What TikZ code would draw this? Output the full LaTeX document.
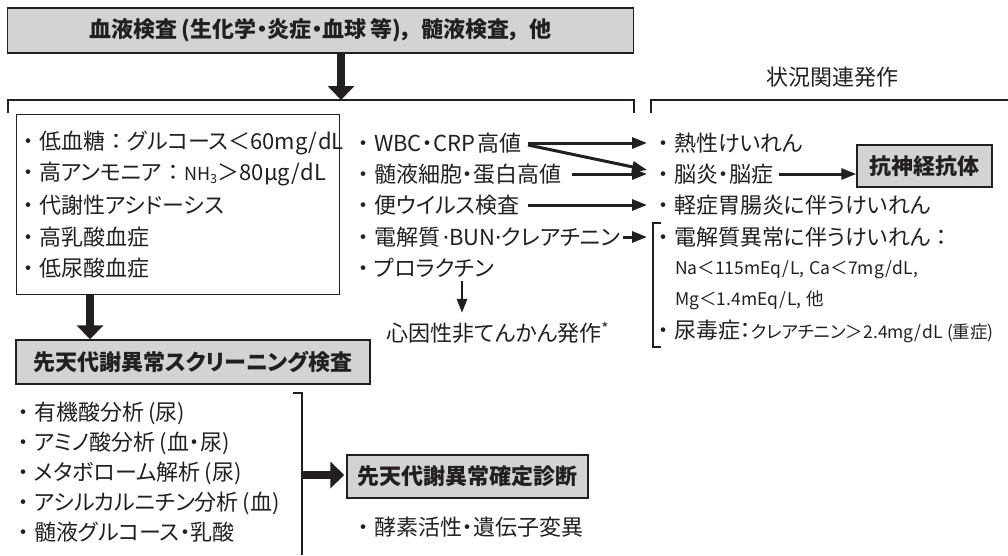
\documentclass[tikz,border=0pt]{standalone}
\usepackage{fontspec}
\setmainfont{Noto Sans CJK JP}[RawFeature=+palt]
\newfontfamily\latinfont{Noto Sans}
\newcommand\bul{\makebox[1em][c]{・}}
\newcommand\fwcolon{\makebox[1em][c]{：}}
\newcommand\fwcomma{\makebox[0.9em][l]{，}}
\newcommand\slsh{\hspace{1pt}/\hspace{1pt}}
\newcommand\cdt{{\latinfont ·}}
\usetikzlibrary{arrows.meta}
\definecolor{ink}{HTML}{231F20}
\definecolor{boxgray}{HTML}{D3D3D3}
\begin{document}
\begin{tikzpicture}[x=1pt,y=-1pt,
  every node/.style={text=ink, font=\fontsize{22}{25}\selectfont, inner sep=0pt},
  item/.style={anchor=west},
  smalltext/.style={font=\fontsize{17.5}{20}\selectfont},
  graybox/.style={draw=ink, fill=boxgray, line width=1.4pt, font=\fontsize{22}{25}\selectfont\bfseries},
  plainbox/.style={draw=ink, line width=1.4pt},
  bigarrow/.style={draw=ink, line width=7.5pt, -{Triangle[width=26pt,length=14pt]}},
  thinarrow/.style={draw=ink, line width=3pt, -{Triangle[width=11pt,length=15pt]}},
  downarrow/.style={draw=ink, line width=2.6pt, -{Triangle[width=10pt,length=14pt]}},
  bracket/.style={draw=ink, line width=1.3pt},
]
\useasboundingbox (0,0) rectangle (1008,555);

% top box
\node[graybox, minimum width=626pt, minimum height=45pt] (top) at (320.5,30.5)
  {血液検査\hspace{4pt}(生化学・炎症・血球\hspace{4pt}等)\fwcomma 髄液検査\fwcomma 他};

% top brackets
\coordinate (bt) at (341,100);
\draw[bracket] (8,113) -- (8,100) -- (634,100) -- (634,113);
\draw[bracket] (651,113) -- (651,100) -- (1008,100);
\draw[bigarrow] (top.south -| bt) -- (bt);
\node (sit) at (832,77) {状況関連発作};

% left box
\node[plainbox, minimum width=323pt, minimum height=180pt, anchor=north west] (lbox) at (16,114) {};
\node[item] (l1) at (17,143) {\bul 低血糖\fwcolon グルコース＜60mg\slsh dL};
\node[item] (l2) at (17,174) {\bul 高アンモニア\fwcolon{\fontsize{18}{20}\selectfont NH\textsubscript{3}}＞80μg\slsh dL};
\node[item] (l3) at (17,205) {\bul 代謝性アシドーシス};
\node[item] (l4) at (17,237) {\bul 高乳酸血症};
\node[item] (l5) at (17,268) {\bul 低尿酸血症};

% middle column
\node[item] (m1) at (352,143) {\bul WBC・CRP\hspace{3pt}高値};
\node[item] (m2) at (352,174) {\bul 髄液細胞・蛋白高値};
\node[item] (m3) at (352,205) {\bul 便ウイルス検査};
\node[item] (m4) at (352,237) {\bul 電解質\hspace{3pt}\cdt BUN\cdt クレアチニン};
\node[item] (m5) at (352,268) {\bul プロラクチン};
\node (psy) at (498,333) {心因性非てんかん発作\textsuperscript{*}};

% right column
\node[item] (r1) at (652,143) {\bul 熱性けいれん};
\node[item] (r2) at (652,174) {\bul 脳炎・脳症};
\node[item] (r3) at (652,205) {\bul 軽症胃腸炎に伴うけいれん};
\node[item] (r4) at (652,237) {\bul 電解質異常に伴うけいれん\fwcolon};
\node[item, smalltext] (na) at (675,270) {Na＜115mEq\slsh L,\hspace{5pt}Ca＜7mg\slsh dL,};
\node[item, smalltext] (mg) at (675,300) {Mg＜1.4mEq\slsh L,\hspace{5pt}他};
\node[item] (ur) at (652,331) {\bul 尿毒症：{\fontsize{17.5}{20}\selectfont クレアチニン＞2.4mg\slsh dL\hspace{4pt}(重症)}};
\draw[bracket] (661,223) -- (653,223) -- (653,347) -- (661,347);

\node[graybox, minimum width=135pt, minimum height=42pt] (anti) at (924.5,166) {抗神経抗体};

% connectors
\draw[thinarrow, shorten >=5pt] ([xshift=176pt]m1.west) -- (r1.west);
\draw[thinarrow, shorten >=5pt] ([xshift=176pt,yshift=-2pt]m1.west) -- ([yshift=3pt]r2.west);
\draw[thinarrow, shorten >=5pt] ([xshift=220pt]m2.west) -- (r2.west);
\draw[thinarrow, shorten >=5pt] ([xshift=176pt]m3.west) -- (r3.west);
\draw[thinarrow, shorten >=5pt] ([xshift=2pt]m4.east) -- (r4.west);
\draw[thinarrow] ([xshift=127pt]r2.west) -- (r2.east -| anti.west);
\draw[downarrow, shorten >=9pt] ([xshift=110pt,yshift=-3pt]m5.south west) -- ([xshift=110pt]m5.south west |- psy.north);

% screening
\node[graybox, minimum width=354pt, minimum height=44pt] (scr) at (193,362) {先天代謝異常スクリーニング検査};
\draw[bigarrow] ([xshift=74pt]lbox.south west) -- ([xshift=74pt]lbox.south west |- scr.north);

\node[item] (s1) at (12,413) {\bul 有機酸分析\hspace{4pt}(尿)};
\node[item] (s2) at (12,443) {\bul アミノ酸分析\hspace{4pt}(血・尿)};
\node[item] (s3) at (12,473) {\bul メタボローム解析\hspace{4pt}(尿)};
\node[item] (s4) at (12,503) {\bul アシルカルニチン分析\hspace{4pt}(血)};
\node[item] (s5) at (12,532) {\bul 髄液グルコース・乳酸};
\draw[bracket] (293,393) -- (302,393) -- (302,555);
\coordinate (bj) at (302,475);

\node[graybox, minimum width=241pt, minimum height=43pt] (dx) at (467.5,476.5) {先天代謝異常確定診断};
\draw[bigarrow, shorten >=2pt] (bj) -- (bj -| dx.west);
\node[item] (dx1) at (352,527) {\bul 酵素活性・遺伝子変異};
\end{tikzpicture}
\end{document}
